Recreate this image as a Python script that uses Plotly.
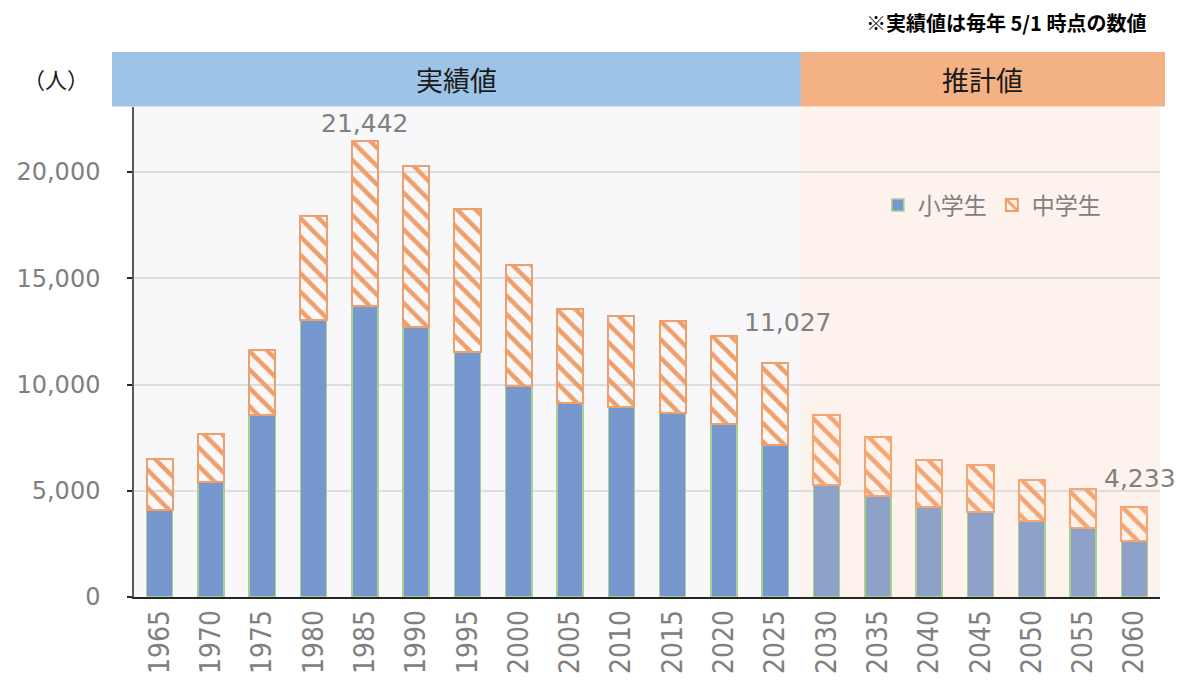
import plotly.graph_objects as go

years = ["1965", "1970", "1975", "1980", "1985", "1990", "1995", "2000", "2005", "2010",
         "2015", "2020", "2025", "2030", "2035", "2040", "2045", "2050", "2055", "2060"]
elementary = [4118, 5404, 8555, 13059, 13685, 12715, 11553, 9920, 9139, 8951,
              8668, 8151, 7144, 5261, 4744, 4226, 3991, 3569, 3239, 2659]
totals = [6518, 7694, 11647, 17920, 21442, 20273, 18268, 15647, 13562, 13214,
          12979, 12306, 11027, 8555, 7520, 6471, 6220, 5498, 5106, 4233]
junior = [t - e for t, e in zip(totals, elementary)]
n_actual = 13  # 1965-2025 actual, 2030-2060 projected

name_elem = "小学生"
name_junior = "中学生"
band_actual = "実績値"
band_forecast = "推計値"
y_unit = "（人）"
note_text = "※実績値は毎年 5/1 時点の数値"
yticks = [0, 5000, 10000, 15000, 20000]
ytick_text = ["0", "5,000", "10,000", "15,000", "20,000"]
labelled = [4, 12, 19]  # indices of bars whose totals are labelled

n_fore = len(years) - n_actual
elem_colors = ["#7698CF"] * n_actual + ["#8DA1C9"] * n_fore
junior_colors = ["#EF9F6B"] * n_actual + ["#F3A673"] * n_fore

NUM_FONT = "DejaVu Sans, Noto Sans CJK JP"
JP_FONT = "Noto Sans CJK JP"
GRAY = "#808080"

fig = go.Figure()
fig.add_trace(go.Bar(
    x=years, y=elementary, name=name_elem,
    marker=dict(color=elem_colors, line=dict(color="#A9D18E", width=1.5)),
    hoverinfo="x+y",
))
fig.add_trace(go.Bar(
    x=years, y=junior, name=name_junior,
    marker=dict(color=junior_colors, line=dict(color=junior_colors, width=2),
                pattern=dict(shape="\\", size=13, solidity=0.35, fillmode="replace")),
    hoverinfo="x+y",
))

split = n_actual / len(years)
shapes = [
    dict(type="rect", xref="paper", yref="paper", x0=0, x1=split, y0=0, y1=1,
         fillcolor="#F8F8FA", line=dict(width=0), layer="below"),
    dict(type="rect", xref="paper", yref="paper", x0=split, x1=1, y0=0, y1=1,
         fillcolor="#FDF3EC", line=dict(width=0), layer="below"),
    dict(type="rect", xref="paper", yref="paper", x0=-0.0214, x1=split,
         y0=1.001, y1=1.112, fillcolor="#9DC3E6", line=dict(width=0), layer="above"),
    dict(type="rect", xref="paper", yref="paper", x0=split, x1=1.0049,
         y0=1.001, y1=1.112, fillcolor="#F4B183", line=dict(width=0), layer="above"),
]

shifts = {4: (0, 1), 12: (12, 24), 19: (6, 12)}
annotations = [
    dict(text=band_actual, xref="paper", yref="paper", x=0.314, y=1.057, showarrow=False,
         font=dict(family=JP_FONT, size=27, color="#1a1a1a"), xanchor="center", yanchor="middle"),
    dict(text=band_forecast, xref="paper", yref="paper", x=0.827, y=1.057, showarrow=False,
         font=dict(family=JP_FONT, size=27, color="#1a1a1a"), xanchor="center", yanchor="middle"),
    dict(text=y_unit, xref="paper", yref="paper", x=-0.076, y=1.059, showarrow=False,
         font=dict(family=JP_FONT, size=22, color="#1a1a1a"), xanchor="center", yanchor="middle"),
    dict(text="<b>" + note_text + "</b>", xref="paper", yref="paper", x=0.988, y=1.173,
         showarrow=False, font=dict(family=JP_FONT, size=20, color="#000000"),
         xanchor="right", yanchor="middle"),
]
for i in labelled:
    xs, ys = shifts[i]
    annotations.append(dict(text=f"{totals[i]:,}", x=i, y=totals[i], xref="x", yref="y",
                            showarrow=False, yanchor="bottom", xshift=xs, yshift=ys,
                            font=dict(family=NUM_FONT, size=25, color=GRAY)))

fig.update_layout(
    width=1189, height=682,
    margin=dict(l=134, r=29, t=107, b=85, autoexpand=False),
    barmode="stack", bargap=0.49,
    paper_bgcolor="white", plot_bgcolor="rgba(0,0,0,0)",
    shapes=shapes, annotations=annotations,
    showlegend=True,
    legend=dict(orientation="h", x=0.725, y=0.80, xanchor="left", yanchor="middle",
                traceorder="normal", bgcolor="rgba(0,0,0,0)",
                font=dict(family=JP_FONT, size=23, color=GRAY), itemwidth=30),
    xaxis=dict(type="category", tickangle=-90, showline=True, linecolor="#262626", linewidth=1.5,
               ticks="", showgrid=False, range=[-0.5, len(years) - 0.5], automargin=False,
               tickfont=dict(family="DejaVu Sans Condensed, DejaVu Sans", size=28, color=GRAY)),
    yaxis=dict(range=[0, 23060], tickvals=yticks, ticktext=ytick_text, showline=True,
               linecolor="#595959", linewidth=1.5, ticks="outside", ticklen=5, tickcolor="#262626",
               tickwidth=1.5, gridcolor="#DDDDDD", gridwidth=1.5, zeroline=False,
               ticklabelstandoff=22, automargin=False,
               tickfont=dict(family=NUM_FONT, size=24, color=GRAY)),
)

fig.write_html("out.html", config={"displayModeBar": False},
               post_script="document.body.style.margin='0';")
